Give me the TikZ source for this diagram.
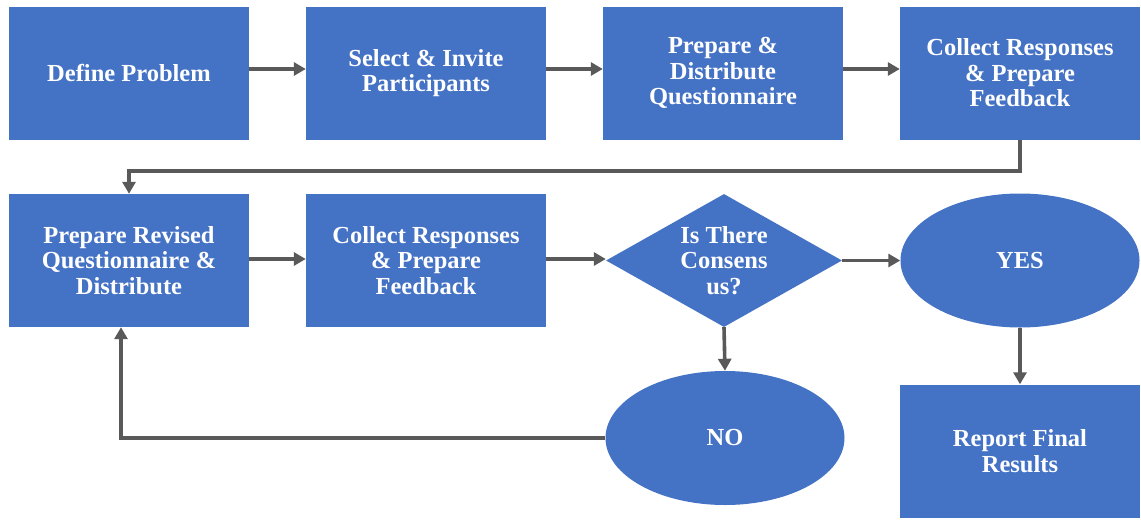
\documentclass[tikz,border=0pt]{standalone}
\usepackage{fontspec}
\setmainfont{Liberation Serif}
\usetikzlibrary{arrows.meta,shapes.geometric}
\definecolor{boxblue}{HTML}{4472C4}
\definecolor{linegray}{HTML}{595959}
\begin{document}
\begin{tikzpicture}[x=1pt,y=-1pt,
  lbl/.style={text=white,font=\fontsize{24.5}{25.5}\selectfont\bfseries,align=center},
  stepbox/.style={lbl,fill=boxblue,minimum width=240pt,minimum height=133pt,inner sep=0pt},
  decbox/.style={lbl,fill=boxblue,diamond,minimum width=236pt,minimum height=133pt,inner sep=0pt,aspect=1.77},
  ovalbox/.style={lbl,fill=boxblue,ellipse,minimum width=239pt,minimum height=134pt,inner sep=0pt},
  conn/.style={draw=linegray,line width=3.6pt,-{Triangle[length=12pt,width=13pt]}}
]
\useasboundingbox (0,0) rectangle (1141,520);
\node[stepbox] (a) at (129,73) {Define Problem};
\node[stepbox] (b) at (426,73) {Select \& Invite\\Participants};
\node[stepbox] (c) at (723,73) {Prepare \&\\Distribute\\Questionnaire};
\node[stepbox] (d) at (1020,73) {Collect Responses\\\& Prepare\\Feedback};
\node[stepbox] (e) at (129,260.5) {Prepare Revised\\Questionnaire \&\\Distribute};
\node[stepbox] (f) at (426,260.5) {Collect Responses\\\& Prepare\\Feedback};
\node[decbox] (g) at (724,260.5) {Is There\\Consens\\us?};
\node[ovalbox] (y) at (1020,260.5) {YES};
\node[ovalbox] (n) at (725,438) {NO};
\node[stepbox] (r) at (1020,451) {Report Final\\Results};
\coordinate (k1) at (1020,171);
\coordinate (k2) at (129,171);
\coordinate (k3) at (121,438);
\draw[conn] ([yshift=4pt]a.east) -- ([yshift=4pt]b.west);
\draw[conn] ([yshift=4pt]b.east) -- ([yshift=4pt]c.west);
\draw[conn] ([yshift=4pt]c.east) -- ([yshift=4pt]d.west);
\draw[conn] (d.south) -- (k1) -- (k2) -- (e.north);
\draw[conn] ([yshift=1.5pt]e.east) -- ([yshift=1.5pt]f.west);
\draw[conn] ([yshift=1.5pt]f.east) -- ([yshift=1.5pt]g.west);
\draw[conn] (g.east) -- (y.west);
\draw[conn] (g.south) -- (n.north);
\draw[conn] (y.south) -- (r.north);
\draw[conn] (n.west) -- (k3) -- (k3 |- e.south);
\end{tikzpicture}
\end{document}
